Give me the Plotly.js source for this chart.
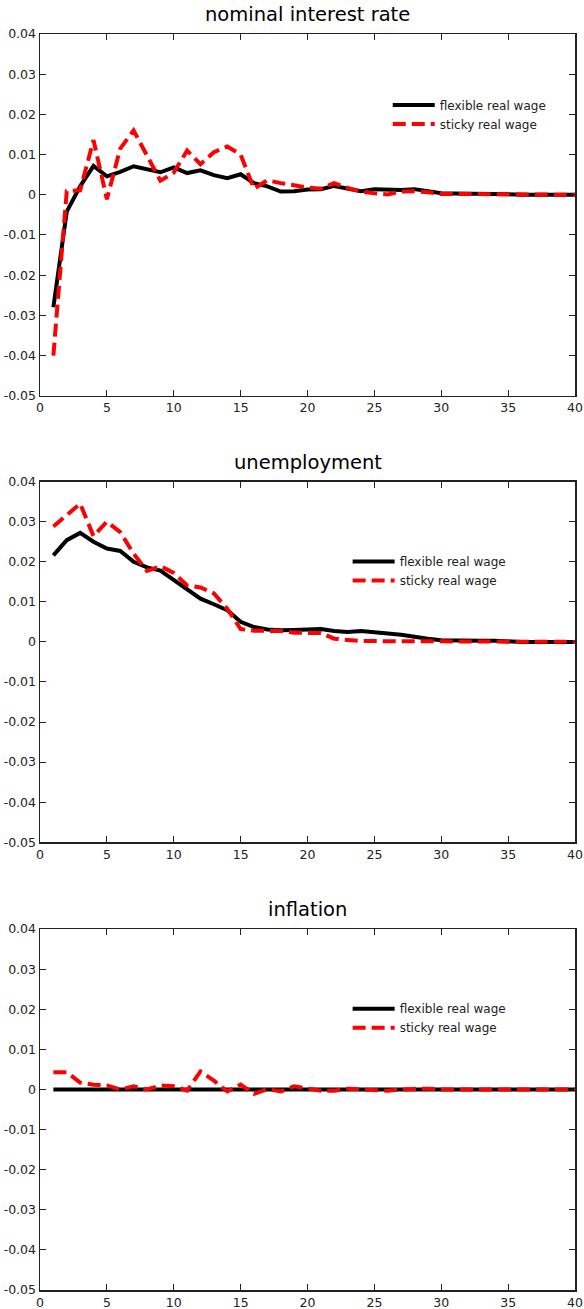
<!DOCTYPE html>
<html>
<head>
<meta charset="utf-8">
<script src="https://cdn.plot.ly/plotly-3.0.1.min.js"></script>
<style>
html,body{margin:0;padding:0;background:#fff;}
#chart{width:584px;height:1309px;}
</style>
</head>
<body>
<div id="chart"></div>
<script>
// ---------- data ----------
const periods = [1,2,3,4,5,6,7,8,9,10,11,12,13,14,15,16,17,18,19,20,21,22,23,24,25,26,27,28,29,30,31,32,33,34,35,36,37,38,39,40];

const panelTitles = ["nominal interest rate", "unemployment", "inflation"];
const seriesNames = ["flexible real wage", "sticky real wage"];

const rateFlexible = [-0.0280,-0.0042,0.0021,0.0072,0.0046,0.0057,0.0071,0.0063,0.0056,0.0068,
                      0.0054,0.0061,0.0049,0.0041,0.0051,0.0029,0.0021,0.0008,0.0009,0.0013,
                      0.0014,0.0022,0.0015,0.0009,0.0014,0.0012,0.0012,0.0014,0.0009,0.0004,
                      0.0003,0.0003,0.0003,0.0003,0.0001,0.0000,0.0000,0.0000,0.0000,0.0000];
const rateSticky   = [-0.0400,0.0009,0.0011,0.0136,-0.0011,0.0115,0.0160,0.0095,0.0035,0.0055,
                      0.0110,0.0076,0.0106,0.0120,0.0100,0.0015,0.0036,0.0029,0.0023,0.0018,
                      0.0015,0.0029,0.0017,0.0008,0.0004,0.0001,0.0008,0.0009,0.0006,0.0002,
                      0.0002,0.0002,0.0001,0.0001,0.0000,0.0000,0.0000,0.0000,0.0000,0.0000];

const unempFlexible = [0.0216,0.0254,0.0272,0.0250,0.0233,0.0227,0.0200,0.0186,0.0178,0.0154,
                       0.0133,0.0108,0.0094,0.0079,0.0050,0.0037,0.0031,0.0029,0.0030,0.0032,
                       0.0032,0.0027,0.0025,0.0027,0.0025,0.0021,0.0018,0.0012,0.0008,0.0004,
                       0.0003,0.0003,0.0003,0.0003,0.0001,0.0000,0.0000,0.0000,0.0000,0.0000];
const unempSticky   = [0.0288,0.0316,0.0345,0.0264,0.0300,0.0274,0.0220,0.0177,0.0189,0.0172,
                       0.0141,0.0136,0.0121,0.0083,0.0032,0.0028,0.0027,0.0027,0.0023,0.0022,
                       0.0022,0.0008,0.0004,0.0002,0.0002,0.0002,0.0002,0.0001,0.0001,0.0000,
                       0.0000,0.0000,0.0000,0.0000,0.0000,0.0000,0.0000,0.0000,0.0000,0.0000];

const inflFlexible = [0,0,0,0,0,0,0,0,0,0,
                      0,0,0,0,0,0,0,0,0,0,
                      0.0002,0.0002,0.0002,0.0002,0.0002,0.0002,0,0,0,0,
                      0,0,0,0,0,0,0,0,0,0];
const inflSticky   = [0.0043,0.0043,0.0017,0.0012,0.0010,0.0000,0.0008,0.0000,0.0010,0.0008,
                      -0.0003,0.0045,0.0022,-0.0005,0.0012,-0.0011,0.0001,-0.0005,0.0008,0.0002,
                      -0.0003,-0.0003,0.0002,0.0000,-0.0001,-0.0003,0.0000,0.0001,0.0002,0.0000,
                      0.0000,0.0000,0.0000,0.0000,0.0000,0.0000,0.0000,0.0000,0.0000,0.0000];

const xTickVals = [0,5,10,15,20,25,30,35,40];
const xTickText = ["0","5","10","15","20","25","30","35","40"];
const yTickVals = [-0.05,-0.04,-0.03,-0.02,-0.01,0,0.01,0.02,0.03,0.04];
const yTickText = ["-0.05","-0.04","-0.03","-0.02","-0.01","0","0.01","0.02","0.03","0.04"];

// ---------- figure ----------
const FONT = "DejaVu Sans, Liberation Sans, Arial, sans-serif";
const panels = [
  {flex: rateFlexible,  sticky: rateSticky},
  {flex: unempFlexible, sticky: unempSticky},
  {flex: inflFlexible,  sticky: inflSticky}
];
const yDomains = [[0.7120, 1.0], [0.3565, 0.6436], [0.0, 0.2874]];
const legendPos = [{x: 0.650, y: 0.955}, {x: 0.575, y: 0.5915}, {x: 0.575, y: 0.2355}];

const traces = [];
const layout = {
  width: 584, height: 1309,
  margin: {l: 40, r: 9, t: 34, b: 19},
  paper_bgcolor: "#fff", plot_bgcolor: "#fff",
  font: {family: FONT, color: "#222", size: 12.5},
  annotations: []
};

panels.forEach((p, i) => {
  const sfx = i === 0 ? "" : String(i + 1);
  const legName = "legend" + sfx;
  traces.push({
    x: periods, y: p.flex, type: "scatter", mode: "lines",
    name: seriesNames[0], xaxis: "x" + sfx, yaxis: "y" + sfx, legend: legName,
    line: {color: "#000000", width: 4}
  });
  traces.push({
    x: periods, y: p.sticky, type: "scatter", mode: "lines",
    name: seriesNames[1], xaxis: "x" + sfx, yaxis: "y" + sfx, legend: legName,
    line: {color: "#ff0000", width: 4, dash: "13px,6px"}
  });
  layout["xaxis" + sfx] = {
    domain: [0, 1], anchor: "y" + sfx, range: [0, 40],
    tickmode: "array", tickvals: xTickVals, ticktext: xTickText,
    ticks: "inside", ticklen: 6, tickwidth: 1, tickcolor: "#222",
    showline: true, linecolor: "#222", linewidth: 1.5, mirror: "allticks",
    showgrid: false, zeroline: false, fixedrange: true,
    tickfont: {family: FONT, size: 12.5, color: "#222"}
  };
  layout["yaxis" + sfx] = {
    domain: yDomains[i], anchor: "x" + sfx, range: [-0.05, 0.04],
    tickmode: "array", tickvals: yTickVals, ticktext: yTickText,
    ticks: "inside", ticklen: 6, tickwidth: 1, tickcolor: "#222",
    showline: true, linecolor: "#222", linewidth: 1.5, mirror: "allticks",
    showgrid: false, zeroline: false, fixedrange: true,
    tickfont: {family: FONT, size: 12.5, color: "#222"}
  };
  layout[legName] = {
    x: legendPos[i].x, y: legendPos[i].y, xanchor: "left", yanchor: "top",
    bgcolor: "rgba(0,0,0,0)", borderwidth: 0, itemwidth: 42,
    font: {family: FONT, size: 12, color: "#222"}
  };
  layout.annotations.push({
    text: panelTitles[i], xref: "paper", yref: "paper",
    x: 0.5, y: yDomains[i][1], xanchor: "center", yanchor: "bottom",
    yshift: 6, showarrow: false,
    font: {family: FONT, size: 19.5, color: "#000"}
  });
});

Plotly.newPlot("chart", traces, layout, {displayModeBar: false, staticPlot: true});
</script>
</body>
</html>
